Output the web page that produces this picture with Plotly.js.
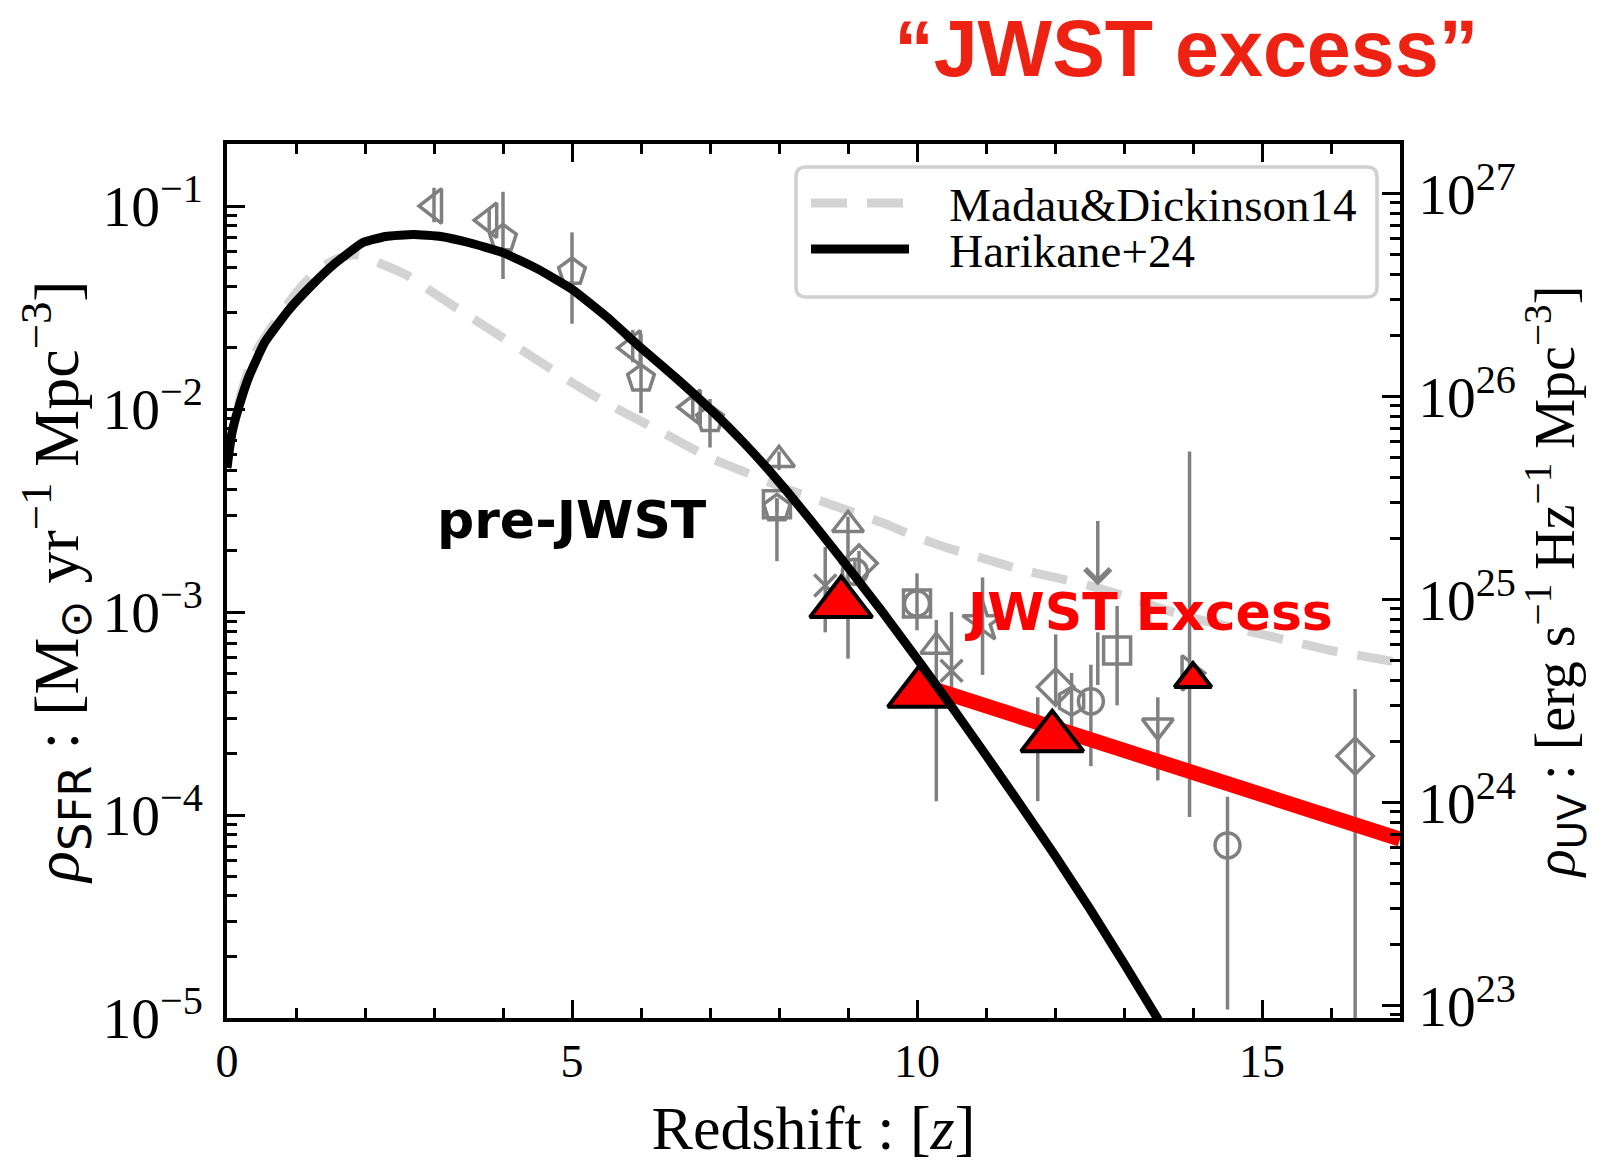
<!DOCTYPE html>
<html>
<head>
<meta charset="utf-8">
<script src="https://cdn.plot.ly/plotly-3.0.1.min.js"></script>
<style>html,body{margin:0;padding:0;background:#fff}#chart{width:1616px;height:1162px}</style>
</head>
<body>
<div id="chart"></div>
<script>
// ---------------- DATA ----------------
// Madau & Dickinson 14 (dashed grey curve)
const mdZ   = [0, 0.2, 0.4, 0.7, 1.0, 1.3, 1.6, 1.9, 2.2, 2.6, 3.0, 3.5, 4.0, 4.5, 5.0, 5.5, 6.0, 6.5, 7.0, 7.5, 8.0, 8.5, 9.0, 9.5, 10.0, 10.5, 11.0, 11.5, 12.0, 12.5, 13.0, 13.5, 14.0, 14.5, 15.0, 15.5, 16.0, 16.5, 17.0];
const mdRho = [0.00562, 0.0117, 0.0186, 0.0269, 0.0372, 0.0479, 0.0550, 0.0575, 0.0525, 0.0457, 0.0372, 0.0288, 0.0224, 0.0174, 0.0135, 0.0107, 0.00871, 0.00708, 0.00575, 0.00490, 0.00417, 0.00363, 0.00316, 0.00275, 0.00234, 0.00204, 0.00182, 0.00162, 0.00148, 0.00135, 0.00120, 0.00105, 0.000933, 0.000851, 0.000776, 0.000708, 0.000646, 0.000603, 0.000562];

// Harikane+24 (black curve)
const h24Z   = [0, 0.07, 0.17, 0.32, 0.55, 0.9, 1.2, 1.54, 1.97, 2.3, 2.7, 3.1, 3.5, 4.0, 4.5, 5.0, 5.5, 6.0, 6.5, 7.0, 7.5, 8.0, 8.5, 9.0, 9.5, 10.0, 10.5, 11.0, 11.5, 12.0, 12.5, 13.0, 13.5];
const h24Rho = [0.00513, 0.00759, 0.0102, 0.0145, 0.0214, 0.0309, 0.0398, 0.0513, 0.0661, 0.0708, 0.0724, 0.0708, 0.0661, 0.0589, 0.0490, 0.0389, 0.0285, 0.0200, 0.0143, 0.0100, 0.00676, 0.00437, 0.00272, 0.00166, 0.00100, 0.000589, 0.000343, 0.000197, 0.000112, 0.0000631, 0.0000347, 0.0000186, 0.00000977];

// JWST excess trend (red line)
const excessZ   = [10.03, 17.0];
const excessRho = [0.000440, 0.0000760];

// Grey literature points (value, upper and lower error-bar ends)
const triLeftZ   = [3.0, 3.8, 5.88, 6.75];
const triLeftRho = [0.100, 0.0851, 0.0200, 0.0102];
const triLeftHi  = [0.123, 0.0977, 0.0245, 0.0117];
const triLeftLo  = [0.0832, 0.0759, 0.0170, 0.00891];

const pentZ   = [4.0, 5.0, 6.0, 7.0, 7.97];
const pentRho = [0.0692, 0.0473, 0.0141, 0.00891, 0.00324];
const pentHi  = [0.1175, 0.0741, 0.0234, 0.0112, 0.00363];
const pentLo  = [0.0437, 0.0263, 0.00955, 0.00646, 0.00178];

const triUpZ   = [8.0, 9.0, 10.28];
const triUpRho = [0.00562, 0.00269, 0.000676];
const triUpHi  = [0.00617, 0.00295, 0.000912];
const triUpLo  = [0.00501, 0.000589, 0.000117];

const crossZ   = [8.67, 10.5];
const crossRho = [0.00135, 0.000513];
const crossHi  = [0.00209, 0.00100];
const crossLo  = [0.000794, 0.000372];

const diamZ   = [9.16, 12.01, 16.35];
const diamRho = [0.00174, 0.000427, 0.000195];
const diamHi  = [0.00200, 0.000776, 0.000417];
const diamLo  = [0.00141, 0.000355, 0.0000063];

const circZ   = [9.1, 10.0, 12.52, 14.5];
const circRho = [0.00158, 0.00110, 0.000363, 0.0000708];
const circHi  = [0.00178, 0.00110, 0.000550, 0.000123];
const circLo  = [0.00141, 0.00110, 0.000174, 0.0000110];

const sqZ   = [7.97, 10.0, 12.9];
const sqRho = [0.00339, 0.00110, 0.000646];
const sqHi  = [0.00363, 0.00155, 0.00107];
const sqLo  = [0.00316, 0.000813, 0.000347];

const hexZ = [12.24], hexRho = [0.000363], hexHi = [0.000501], hexLo = [0.000269];
const triDnZ = [13.49], triDnRho = [0.000275], triDnHi = [0.000380], triDnLo = [0.000148];
const starZ = [10.95], starRho = [0.000891], starHi = [0.00148], starLo = [0.000490];
const triRtZ = [13.95], triRtRho = [0.000501], triRtHi = [0.00617], triRtLo = [0.0000977];
const barZ = [11.75, 12.62], barRho = [0.000214, 0.000589], barHi = [0.000380, 0.000794], barLo = [0.000117, 0.000437];

// upper limit (arrow)
const ulZ = [12.62], ulTop = [0.00309], ulTip = [0.00135];

// JWST points (red triangles)
const redZ = [8.9, 10.03, 11.96], redRho = [0.00110, 0.000398, 0.000240];
const redSmallZ = [14.0], redSmallRho = [0.000468];

// conversion rho_UV = rho_SFR / kappa
const kappaUV = 1.15e-28;

// ---------------- TRACES ----------------
const GREY = '#808080';
function errs(v, hi, lo) {
  return {type: 'data', symmetric: false,
    array: v.map((y, i) => hi[i] - y), arrayminus: v.map((y, i) => y - lo[i]),
    color: GREY, thickness: 3.5, width: 0};
}
function greyTrace(z, v, hi, lo, symbol, size) {
  return {x: z, y: v, type: 'scatter', mode: 'markers', showlegend: false, hoverinfo: 'skip',
    error_y: errs(v, hi, lo),
    marker: {symbol: symbol, size: size, color: GREY, line: {color: GREY, width: 3.5}}};
}

const traces = [];
traces.push({x: mdZ, y: mdRho, type: 'scatter', mode: 'lines', name: '\u00a0\u00a0\u00a0Madau&Dickinson14',
  legend: 'legend', line: {color: '#d3d3d3', width: 9, dash: '36px,20px', shape: 'spline', smoothing: 0.8}});
traces.push(greyTrace(triLeftZ, triLeftRho, triLeftHi, triLeftLo, 'triangle-left-open', 30));
traces.push(greyTrace(pentZ, pentRho, pentHi, pentLo, 'pentagon-open', 28));
traces.push(greyTrace(sqZ, sqRho, sqHi, sqLo, 'square-open', 27));
traces.push(greyTrace(triUpZ, triUpRho, triUpHi, triUpLo, 'triangle-up-open', 27));
traces.push(greyTrace(crossZ, crossRho, crossHi, crossLo, 'x-thin-open', 22));
traces.push(greyTrace(diamZ, diamRho, diamHi, diamLo, 'diamond-open', 28));
traces.push(greyTrace(circZ, circRho, circHi, circLo, 'circle-open', 25));
traces.push(greyTrace(hexZ, hexRho, hexHi, hexLo, 'hexagon-open', 28));
traces.push(greyTrace(triDnZ, triDnRho, triDnHi, triDnLo, 'triangle-down-open', 27));
traces.push(greyTrace(starZ, starRho, starHi, starLo, 'star-open', 30));
traces.push(greyTrace(triRtZ, triRtRho, triRtHi, triRtLo, 'triangle-right-open', 30));
const barOnly = greyTrace(barZ, barRho, barHi, barLo, 'circle', 1);
barOnly.marker = {size: 1, color: 'rgba(0,0,0,0)'};
traces.push(barOnly);
traces.push({x: excessZ, y: excessRho, type: 'scatter', mode: 'lines', showlegend: false, hoverinfo: 'skip',
  line: {color: '#ff0000', width: 15}});
traces.push({x: redZ, y: redRho, type: 'scatter', mode: 'markers', showlegend: false, hoverinfo: 'skip',
  marker: {symbol: 'triangle-up', size: 54, color: '#ff0000', line: {color: 'black', width: 4}}});
traces.push({x: redSmallZ, y: redSmallRho, type: 'scatter', mode: 'markers', showlegend: false, hoverinfo: 'skip',
  marker: {symbol: 'triangle-up', size: 32, color: '#ff0000', line: {color: 'black', width: 4}}});
// Harikane+24 drawn through the right-hand (UV luminosity density) axis, same curve
traces.push({x: h24Z, y: h24Rho.map(v => v / kappaUV), yaxis: 'y2', type: 'scatter', mode: 'lines',
  legend: 'legend2', name: '\u00a0\u00a0\u00a0Harikane+24', line: {color: 'black', width: 9, shape: 'spline', smoothing: 0.4}});

// ---------------- LAYOUT ----------------
const L = 227, R = 1400, T = 144, B = 1018;
const PW = R - L, PH = B - T;
function px(xp) { return (xp - L) / PW; }
function py(yp) { return (B - yp) / PH; }

// rounded legend frame
const fx0 = px(796), fx1 = px(1377), fy1 = py(167), fy0 = py(297);
const rx = 10 / PW, ry = 10 / PH;
const framePath = `M${fx0+rx},${fy1} L${fx1-rx},${fy1} Q${fx1},${fy1} ${fx1},${fy1-ry} L${fx1},${fy0+ry} Q${fx1},${fy0} ${fx1-rx},${fy0} L${fx0+rx},${fy0} Q${fx0},${fy0} ${fx0},${fy0+ry} L${fx0},${fy1-ry} Q${fx0},${fy1} ${fx0+rx},${fy1} Z`;

const annotations = [
  {x: 5.0, y: Math.log10(0.00284), xref: 'x', yref: 'y', text: '<b>pre-JWST</b>', showarrow: false,
   font: {family: 'DejaVu Sans', size: 52, color: 'black'}},
  {x: 13.36, y: Math.log10(0.00100), xref: 'x', yref: 'y', text: '<b>JWST Excess</b>', showarrow: false,
   font: {family: 'DejaVu Sans', size: 52, color: '#ff0000'}}
];
ulZ.forEach((z, i) => {
  annotations.push({x: z, y: Math.log10(ulTip[i]), ax: z, ay: Math.log10(ulTop[i]),
    xref: 'x', yref: 'y', axref: 'x', ayref: 'y', text: ' ', showarrow: true,
    arrowhead: 4, arrowsize: 1.4, arrowwidth: 3.5, arrowcolor: GREY});
});

const tickFont = {family: 'Liberation Serif', size: 46, color: 'black'};
const minorLog = {dtick: 'D1', ticks: 'inside', ticklen: 10, tickwidth: 3, tickcolor: 'black', showgrid: false};
const legendFont = {family: 'Liberation Serif', size: 47, color: 'black'};

const layout = {
  width: 1616, height: 1162,
  margin: {l: L, r: 1616 - R, t: T, b: 1162 - B, pad: 0},
  paper_bgcolor: 'white', plot_bgcolor: 'white',
  font: {family: 'Liberation Serif', color: 'black'},
  title: {text: '<b>\u201cJWST excess\u201d</b>', xref: 'container', yref: 'container',
    x: 0.734, xanchor: 'center', y: 0.958, yanchor: 'middle',
    font: {family: 'Liberation Sans', size: 79, color: '#ee2212'}},
  xaxis: {range: [0, 17], tick0: 0, dtick: 5, ticks: 'inside', ticklen: 18, tickwidth: 3, tickcolor: 'black',
    showline: true, linewidth: 4, linecolor: 'black', mirror: 'ticks', showgrid: false, zeroline: false,
    minor: {dtick: 1, ticks: 'inside', ticklen: 10, tickwidth: 3, tickcolor: 'black', showgrid: false},
    tickfont: tickFont, ticklabelstandoff: 0,
    title: {text: 'Redshift : [<i>z</i>]', font: {family: 'Liberation Serif', size: 62, color: 'black'}, standoff: 34}},
  yaxis: {type: 'log', range: [-5, -0.6946], dtick: 1, exponentformat: 'power',
    ticks: 'inside', ticklen: 18, tickwidth: 3, tickcolor: 'black',
    showline: true, linewidth: 4, linecolor: 'black', mirror: false, showgrid: false, zeroline: false,
    minor: minorLog, tickfont: tickFont, ticklabelstandoff: 11,
    title: {text: '<i>\u03c1</i><sub><span style="font-family:DejaVu Sans">SFR</span></sub> : [M<sub>\u2299</sub> yr<sup>\u22121</sup> Mpc<sup>\u22123</sup>]',
      font: {family: 'Liberation Serif', size: 64, color: 'black'}, standoff: 0}},
  yaxis2: {type: 'log', overlaying: 'y', side: 'right', anchor: 'x',
    range: [-5 - Math.log10(kappaUV), -0.6946 - Math.log10(kappaUV)], dtick: 1, exponentformat: 'power',
    ticks: 'inside', ticklen: 18, tickwidth: 3, tickcolor: 'black',
    showline: true, linewidth: 4, linecolor: 'black', showgrid: false, zeroline: false,
    minor: minorLog, tickfont: tickFont, ticklabelstandoff: 5,
    title: {text: '<i>\u03c1</i><sub><span style="font-family:DejaVu Sans">UV</span></sub> : [erg s<sup>\u22121</sup> Hz<sup>\u22121</sup> Mpc<sup>\u22123</sup>]',
      font: {family: 'Liberation Serif', size: 56, color: 'black'}, standoff: 16}},
  showlegend: true,
  legend: {x: px(806), y: py(166), xanchor: 'left', yanchor: 'top', bgcolor: 'rgba(0,0,0,0)', borderwidth: 0,
    itemwidth: 98, font: legendFont},
  legend2: {x: px(806), y: py(212), xanchor: 'left', yanchor: 'top', bgcolor: 'rgba(0,0,0,0)', borderwidth: 0,
    itemwidth: 98, font: legendFont},
  shapes: [{type: 'path', xref: 'paper', yref: 'paper', path: framePath, layer: 'above',
    line: {color: '#d0d0d0', width: 3.5}, fillcolor: 'rgba(255,255,255,0.85)'}],
  annotations: annotations
};

Plotly.newPlot('chart', traces, layout, {staticPlot: true, displayModeBar: false});
</script>
</body>
</html>
